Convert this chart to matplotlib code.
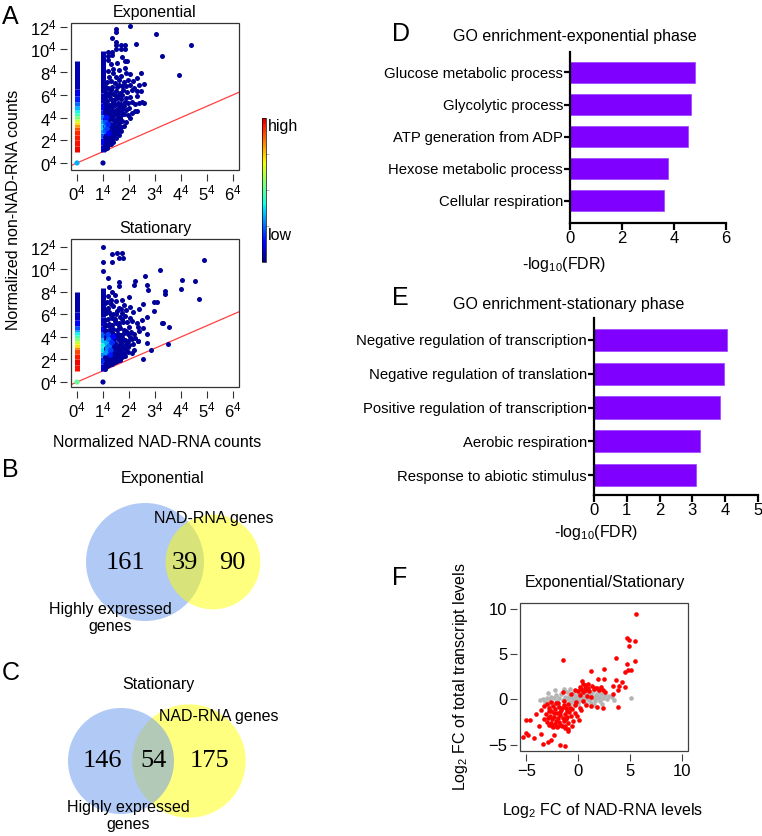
import numpy as np
import matplotlib.pyplot as plt
from matplotlib.patches import Rectangle, Circle
from matplotlib.colors import ListedColormap
from matplotlib.cm import ScalarMappable

plt.rcParams['font.family'] = ['Liberation Sans', 'DejaVu Sans']
plt.rcParams['mathtext.fontset'] = 'custom'
plt.rcParams['mathtext.rm'] = 'Liberation Sans'
plt.rcParams['mathtext.it'] = 'Liberation Sans:italic'

# ---------------- data ----------------
# panel A: density scatter (4th-root scale), columns at x=0 and x=1 given as stripes
exp_col0_breaks = [0.95, 1.5, 2.0, 2.5, 2.9, 3.15, 3.4, 3.65, 3.9, 4.15, 4.4, 4.7, 5.0, 5.4, 5.9, 6.5, 8.95]
exp_col0_dens = [0.97, 0.96, 0.95, 0.93, 0.88, 0.8, 0.72, 0.64, 0.55, 0.47, 0.4, 0.33, 0.25, 0.17, 0.1, 0.05]
exp_col1_breaks = [1.0, 1.6, 2.2, 2.6, 3.0, 3.4, 3.8, 4.2, 4.7, 5.3, 6.2, 9.9]
exp_col1_dens = [0.08, 0.14, 0.22, 0.3, 0.36, 0.33, 0.26, 0.18, 0.12, 0.07, 0.04]
stat_col0_breaks = [0.95, 1.5, 2.0, 2.5, 2.9, 3.15, 3.4, 3.65, 3.9, 4.15, 4.4, 4.65, 5.0, 5.5, 6.2, 7.95]
stat_col0_dens = [0.96, 0.97, 0.95, 0.9, 0.82, 0.72, 0.64, 0.56, 0.48, 0.4, 0.32, 0.22, 0.13, 0.07, 0.04]
stat_col1_breaks = [1.0, 1.6, 2.2, 2.7, 3.1, 3.5, 3.9, 4.4, 5.0, 5.8, 8.3]
stat_col1_dens = [0.1, 0.18, 0.28, 0.38, 0.4, 0.34, 0.24, 0.14, 0.08, 0.04]

exp_zero = [(0, 0, 0.32), (1, 0, 0.03)]
stat_zero = [(0, 0, 0.5), (1, 0, 0.03)]

exp_blob = [
    (1.08, 1.35), (1.12, 1.5), (1.2, 1.6), (1.1, 1.75), (1.3, 1.7), (1.15, 1.9), (1.25, 1.95), (1.4, 1.85),
    (1.1, 2.1), (1.18, 2.2), (1.28, 2.15), (1.38, 2.3), (1.5, 2.2), (1.12, 2.45), (1.22, 2.5), (1.33, 2.55),
    (1.45, 2.6), (1.6, 2.5), (1.15, 2.75), (1.25, 2.8), (1.38, 2.85), (1.5, 2.9), (1.7, 2.85), (1.3, 2.35),
    (1.1, 3.05), (1.2, 3.1), (1.3, 3.2), (1.42, 3.1), (1.55, 3.25), (1.68, 3.15), (1.8, 3.3), (1.15, 3.4),
    (1.25, 3.5), (1.37, 3.45), (1.48, 3.6), (1.6, 3.55), (1.75, 3.7), (1.9, 3.6), (1.12, 3.75), (1.22, 3.85),
    (1.33, 3.9), (1.45, 3.8), (1.58, 3.95), (2.05, 3.95),
    (1.1, 4.05), (1.2, 4.15), (1.3, 4.1), (1.42, 4.2), (1.55, 4.3), (1.68, 4.2), (1.8, 4.35), (1.95, 4.25),
    (2.1, 4.4), (1.15, 4.5), (1.27, 4.55), (1.38, 4.6), (1.5, 4.7), (1.63, 4.6), (1.75, 4.75), (1.88, 4.65),
    (2.0, 4.8), (2.22, 4.6), (1.12, 4.85), (1.35, 4.9), (2.3, 4.55),
    (1.1, 5.05), (1.22, 5.1), (1.33, 5.2), (1.45, 5.15), (1.58, 5.3), (1.7, 5.2), (1.83, 5.35), (1.97, 5.25),
    (2.12, 5.4), (2.25, 5.2), (1.17, 5.5), (1.3, 5.6), (1.42, 5.55), (1.55, 5.7), (1.68, 5.65), (1.9, 5.75),
    (2.05, 5.85), (2.4, 5.3), (2.5, 5.35), (2.56, 5.31), (1.25, 5.9), (1.62, 5.95), (2.3, 5.9),
    (1.12, 6.05), (1.25, 6.15), (1.38, 6.1), (1.5, 6.3), (1.65, 6.2), (1.78, 6.4), (1.93, 6.25), (2.1, 6.45),
    (2.3, 6.35), (2.45, 6.3), (1.2, 6.6), (1.35, 6.7), (1.55, 6.65), (1.72, 6.8), (1.88, 6.75), (2.02, 6.9),
    (2.2, 6.6), (2.38, 6.85), (2.59, 6.93),
    (1.15, 7.1), (1.3, 7.2), (1.45, 7.05), (1.6, 7.3), (1.8, 7.15), (1.95, 7.35), (2.15, 7.25), (1.25, 7.55),
    (1.5, 7.6), (1.7, 7.7), (2.05, 7.8), (1.38, 7.9), (2.3, 7.5), (1.88, 7.95), (2.46, 7.93),
    (1.18, 8.1), (1.4, 8.3), (1.62, 8.2), (1.85, 8.4), (1.3, 8.7), (1.55, 8.8), (1.2, 9.1), (1.33, 9.5),
    (1.2, 9.4), (1.72, 9.3), (1.86, 9.0), (1.92, 8.95),
    (1.06, 1.2), (1.07, 1.6), (1.06, 2.3), (1.07, 2.9), (1.06, 3.3), (1.07, 3.9), (1.06, 4.4), (1.07, 4.7),
    (1.06, 5.3), (1.07, 5.7), (1.06, 6.3), (1.07, 6.8), (1.17, 1.3), (1.22, 2.0), (1.35, 2.05), (1.42, 2.45),
    (1.55, 2.7), (1.62, 3.0), (1.4, 3.35), (1.52, 3.85), (1.65, 4.0), (1.28, 4.35), (1.47, 4.45), (1.7, 4.45),
    (1.2, 4.75), (1.6, 4.9), (1.4, 5.35), (1.8, 5.05), (1.5, 5.9), (1.75, 6.0), (1.32, 6.4), (1.6, 6.9),
    (2.04, 12.07), (1.5, 11.83), (1.5, 11.54), (1.33, 11.04), (3.04, 11.4), (4.4, 10.37), (3.28, 9.43),
    (3.93, 7.72), (2.28, 10.45), (1.5, 10.66), (1.5, 10.37), (1.5, 10.07), (1.7, 10.37), (1.83, 10.37),
    (1.7, 10.07), (1.83, 10.07), (1.2, 9.75), (1.33, 9.75),
]
exp_core = [(1.1, 2.8, 0.24), (1.13, 3.2, 0.28), (1.1, 3.6, 0.22), (1.16, 3.0, 0.2), (1.2, 3.4, 0.17),
            (1.14, 4.0, 0.15), (1.22, 2.6, 0.14)]

stat_blob = [
    (1.08, 1.25), (1.15, 1.4), (1.25, 1.5), (1.35, 1.6), (1.12, 1.65), (1.2, 1.8), (1.45, 1.75), (1.55, 1.85),
    (1.3, 1.9), (1.65, 1.95),
    (1.1, 2.05), (1.2, 2.15), (1.3, 2.1), (1.4, 2.25), (1.5, 2.2), (1.62, 2.3), (1.75, 2.2), (1.85, 2.35),
    (1.15, 2.45), (1.25, 2.5), (1.35, 2.55), (1.47, 2.6), (1.58, 2.5), (1.7, 2.65), (1.82, 2.55), (1.95, 2.7),
    (2.1, 2.6), (1.12, 2.8), (1.22, 2.85), (1.32, 2.9), (1.44, 2.8), (1.55, 2.95), (1.68, 2.9), (1.9, 2.95),
    (2.2, 2.85), (2.53, 2.05), (2.83, 2.8),
    (1.1, 3.05), (1.2, 3.15), (1.3, 3.1), (1.4, 3.2), (1.52, 3.15), (1.63, 3.3), (1.75, 3.2), (1.88, 3.35),
    (2.0, 3.25), (2.15, 3.4), (2.33, 3.6), (1.15, 3.5), (1.25, 3.55), (1.37, 3.6), (1.48, 3.5), (1.6, 3.7),
    (1.72, 3.6), (1.85, 3.75), (1.98, 3.65), (2.12, 3.8), (2.25, 3.9), (1.12, 3.85), (1.3, 3.95), (1.45, 3.9),
    (2.7, 3.5), (3.51, 3.35),
    (1.1, 4.05), (1.2, 4.1), (1.32, 4.2), (1.45, 4.15), (1.58, 4.3), (1.7, 4.2), (1.82, 4.35), (1.95, 4.25),
    (2.08, 4.45), (2.2, 4.3), (2.4, 4.5), (2.7, 4.3), (1.15, 4.55), (1.27, 4.6), (1.4, 4.7), (1.53, 4.6),
    (1.66, 4.75), (1.8, 4.65), (2.0, 4.85), (2.33, 4.9), (2.55, 4.75), (1.25, 4.95),
    (1.12, 5.05), (1.24, 5.15), (1.36, 5.1), (1.5, 5.25), (1.62, 5.2), (1.78, 5.35), (1.92, 5.3), (2.1, 5.45),
    (2.3, 5.25), (2.5, 5.5), (3.32, 5.2), (3.25, 5.25), (3.54, 4.86), (1.2, 5.6), (1.35, 5.7), (1.48, 5.6),
    (1.65, 5.75), (1.85, 5.85), (2.05, 5.7), (2.68, 5.8), (1.3, 5.95),
    (1.12, 6.1), (1.25, 6.2), (1.4, 6.05), (1.55, 6.3), (1.72, 6.15), (1.9, 6.35), (2.15, 6.2), (2.4, 6.45),
    (2.95, 6.3), (1.2, 6.6), (1.38, 6.7), (1.6, 6.55), (1.8, 6.8), (2.05, 6.65), (2.55, 6.9), (1.3, 6.95),
    (1.15, 7.1), (1.3, 7.25), (1.5, 7.15), (1.75, 7.3), (2.95, 7.1), (3.09, 7.1), (2.74, 8.17), (1.2, 7.6),
    (1.45, 7.7), (2.0, 7.5), (1.35, 8.0), (2.2, 8.6), (2.68, 8.6), (3.38, 8.1), (3.38, 7.8), (1.6, 8.5),
    (1.25, 8.4), (2.23, 9.0), (2.62, 9.37), (1.2, 9.2), (1.62, 8.9),
    (1.06, 1.15), (1.07, 1.5), (1.06, 2.2), (1.07, 4.5), (1.06, 5.0), (1.07, 5.5), (1.06, 6.4), (1.07, 7.0),
    (1.18, 1.55), (1.28, 1.75), (1.38, 1.95), (1.5, 2.05), (1.6, 2.15), (1.72, 2.45), (1.42, 2.4),
    (1.6, 2.75), (1.8, 3.05), (1.95, 3.1), (1.68, 3.45), (1.92, 3.5), (2.05, 3.95), (1.55, 4.0), (1.75, 4.0),
    (1.9, 4.5), (1.35, 4.45), (1.62, 4.95), (1.45, 5.4), (1.75, 5.6), (1.5, 6.0), (1.68, 6.45),
    (1.0, 11.97), (1.0, 10.64), (1.0, 9.81), (1.36, 11.35), (1.54, 11.43), (1.72, 11.43), (1.62, 11.0),
    (1.78, 11.0), (1.36, 10.64), (4.88, 10.85), (3.2, 9.96), (4.04, 9.07), (4.53, 8.92), (3.99, 8.21),
    (4.68, 7.32), (2.33, 3.6),
]
stat_core = [(1.12, 2.6, 0.3), (1.18, 3.0, 0.28), (1.15, 3.5, 0.32), (1.22, 3.8, 0.25), (1.25, 3.2, 0.25),
             (1.3, 2.8, 0.2), (1.35, 3.5, 0.18), (1.2, 4.2, 0.2), (1.4, 4.0, 0.14), (1.28, 2.4, 0.16)]

# panels B, C: venn counts (left only, overlap, right only)
venn_exp = [161, 39, 90]
venn_stat = [146, 54, 175]

# panels D, E: GO enrichment
go_exp_terms = ['Glucose metabolic process', 'Glycolytic process', 'ATP generation from ADP',
                'Hexose metabolic process', 'Cellular respiration']
go_exp_vals = [4.8, 4.65, 4.55, 3.77, 3.62]
go_stat_terms = ['Negative regulation of transcription', 'Negative regulation of translation',
                 'Positive regulation of transcription', 'Aerobic respiration', 'Response to abiotic stimulus']
go_stat_vals = [4.05, 3.95, 3.83, 3.22, 3.1]

# panel F: log2 FC scatter
fc_red = [
    (5.54, 9.49), (4.67, 6.74), (4.93, 6.6), (5.47, 6.5), (4.93, 5.93), (5.47, 4.29), (4.67, 3.92), (5.15, 3.26),
    (4.5, 3.0), (4.83, 3.3), (3.64, 4.58), (1.29, 3.11), (2.51, 3.36), (4.19, 1.9), (3.96, 1.5), (4.5, 1.4),
    (3.32, 1.5), (3.61, 2.09), (2.51, 2.2), (1.93, 2.2), (0.42, 2.03), (3.86, -0.84), (2.42, -1.0),
    (1.84, -0.84), (3.38, 0.6), (3.86, 0.99), (2.58, 0.8), (2.42, 1.06), (-1.48, 4.4),
    (0.16, 1.4), (0.64, 1.28), (0.97, 1.28), (1.61, 1.28), (0.0, 0.9), (0.3, 1.1), (0.5, 0.8), (0.8, 1.0),
    (1.1, 0.9), (1.3, 1.5), (1.5, 1.1), (1.8, 1.3), (2.0, 1.0), (2.2, 1.4), (0.7, 1.6), (0.2, 0.5),
    (0.45, 1.75), (1.0, 1.7), (-0.64, 0.6), (-0.32, 1.0), (-1.45, 0.8), (1.2, 0.3), (0.9, 0.4),
    (-0.16, -0.3), (0.8, -0.66), (0.32, -1.2), (0.1, -2.3), (1.2, -0.7), (0.5, -0.2), (-0.3, -1.5),
    (-0.1, -1.8), (0.2, -0.9),
    (-3.32, -0.77), (-3.54, -1.2), (-3.0, -0.5), (-2.8, -0.9), (-2.6, -1.3), (-2.4, -0.7), (-2.2, -1.1),
    (-2.0, -1.5), (-1.8, -0.8), (-1.6, -1.2), (-1.4, -0.6), (-1.2, -1.0), (-1.0, -0.5), (-0.8, -0.9),
    (-3.1, -1.6), (-2.9, -2.0), (-2.7, -1.8), (-2.5, -2.2), (-2.3, -1.9), (-2.1, -2.4), (-1.9, -2.0),
    (-1.7, -1.7), (-1.5, -2.1), (-1.3, -1.6), (-1.1, -1.9), (-0.9, -1.4), (-0.7, -1.8), (-3.0, -2.5),
    (-2.8, -2.8), (-2.6, -2.6), (-2.4, -3.0), (-2.2, -2.7), (-2.0, -3.1), (-1.8, -2.5), (-1.6, -2.8),
    (-1.4, -2.4), (-1.2, -2.2), (-1.0, -2.6), (-3.3, -2.2), (-2.65, -0.3), (-1.9, -0.4), (-1.35, -0.2),
    (-1.05, -1.3), (-0.6, -1.1), (-2.35, -1.5), (-1.75, -1.35), (-2.85, -1.3), (-1.55, -0.95),
    (-2.15, -0.45), (-1.25, -2.95), (-0.95, -3.3), (-0.55, -2.96), (-1.58, -2.96), (-1.26, -3.15),
    (-0.93, -3.5), (-1.9, -2.9), (-2.55, -2.96), (-2.29, -3.88), (-0.45, -2.4), (-0.3, -0.6),
    (-4.03, -1.57), (-5.0, -2.3), (-4.67, -2.3), (-5.31, -4.14), (-5.0, -3.66), (-4.83, -3.96),
    (-4.25, -4.25), (-3.6, -3.77), (-3.43, -4.88), (-2.93, -4.7), (-2.64, -4.5), (-1.74, -5.0),
    (-1.26, -5.2), (-3.8, -2.9),
]
fc_grey = [
    (-3.7, -0.1), (-3.4, 0.0), (-3.2, -0.3), (-3.0, 0.2), (-2.8, -0.1), (-2.6, 0.3), (-2.5, -0.4), (-2.3, 0.1),
    (-2.1, 0.5), (-2.0, -0.2), (-1.8, 0.2), (-1.6, 0.6), (-1.5, -0.1), (-1.3, 0.3), (-1.1, 0.8), (-1.0, 0.0),
    (-0.9, 0.4), (-0.7, -0.3), (-0.6, 0.2), (-0.5, 0.7), (-0.4, -0.1), (-0.3, 0.4), (-0.2, 0.9), (-0.1, 0.1),
    (0.0, 0.5), (0.1, -0.2), (0.2, 0.3), (0.3, 0.8), (0.4, 0.0), (0.5, 0.5), (0.6, -0.3), (0.7, 0.2),
    (0.8, 0.7), (0.9, 0.1), (1.0, 0.4), (1.1, -0.1), (1.2, 0.6), (1.3, 0.2), (1.4, 0.9), (1.5, 0.3),
    (1.6, -0.2), (1.7, 0.5), (1.8, 0.1), (1.9, 0.8), (2.0, 0.3), (2.2, 0.6), (2.4, 0.2), (2.6, 0.5),
    (2.8, 0.0), (3.0, 0.4), (3.45, -0.05), (5.15, 0.15), (-2.9, 0.7), (-2.2, 1.0), (-1.4, 1.2), (-0.8, 1.1),
    (0.2, 1.2), (0.6, 1.0), (-0.8, -0.6), (0.0, -0.5), (0.8, -0.5), (1.5, -0.6), (2.3, -0.5), (-1.9, -0.7),
    (-2.7, -0.6), (3.3, 0.3), (2.1, -0.2), (1.0, 1.0), (0.35, 0.25), (-0.25, -0.45), (1.25, -0.35),
]

# ---------------- layout helpers ----------------
W, H = 762, 836
fig = plt.figure(figsize=(W / 100, H / 100), dpi=100)


def rect(l, t, r, b):
    return [l / W, 1 - b / H, (r - l) / W, (b - t) / H]


def ftext(x, y, s, **kw):
    kw.setdefault('ha', 'center')
    kw.setdefault('va', 'center')
    return fig.text(x / W, 1 - y / H, s, **kw)


jet = plt.get_cmap('jet')
cmap = ListedColormap(jet(np.linspace(0.0, 0.93, 256)))


def r_frame(ax, offset=3, color='#333333'):
    for s in ['top', 'right']:
        ax.spines[s].set_visible(False)
    for s in ['left', 'bottom']:
        ax.spines[s].set_position(('outward', offset))
        ax.spines[s].set_linewidth(0)
    ax.add_patch(Rectangle((0, 0), 1, 1, transform=ax.transAxes, fill=False,
                           ec=color, lw=0.9, clip_on=False))
    ax.tick_params(length=5, width=0.8, color=color, labelsize=12, pad=2)


def density_panel(ax, title, cols, zeros, blob, core, ylim):
    ax.set_xlim(-0.23, 6.23)
    ax.set_ylim(*ylim)
    ax.axline((0, 0), slope=1, color='#ff4040', lw=0.9, zorder=1)
    for x, br, dens in cols:
        ax.vlines([x] * len(dens), br[:-1], br[1:], colors=cmap(np.array(dens)), lw=3.6, zorder=2)
    bx = [p[0] for p in blob]
    by = [p[1] for p in blob]
    ax.scatter(bx, by, s=13, color=cmap(0.03), lw=0, zorder=3)
    ax.scatter([p[0] for p in core], [p[1] for p in core], s=16,
               c=cmap(np.array([p[2] for p in core])), lw=0, zorder=4)
    ax.scatter([p[0] for p in zeros], [p[1] for p in zeros], s=14,
               c=cmap(np.array([p[2] for p in zeros])), lw=0, zorder=4)
    ax.set_xticks(range(7))
    ax.set_xticklabels([r'$\mathregular{%d^4}$' % v for v in range(7)])
    ax.set_yticks(range(0, 13, 2))
    ax.set_yticklabels([r'$\mathregular{%d^4}$' % v for v in range(0, 13, 2)])
    r_frame(ax)
    ax.set_title(title, fontsize=11.5, pad=4)


# ---------------- panel A ----------------
ax_a1 = fig.add_axes(rect(71, 23, 239, 170))
density_panel(ax_a1, 'Exponential',
              [(0, exp_col0_breaks, exp_col0_dens), (1, exp_col1_breaks, exp_col1_dens)],
              exp_zero, exp_blob, exp_core, (-0.62, 12.33))
ax_a2 = fig.add_axes(rect(71, 239, 239, 387))
density_panel(ax_a2, 'Stationary',
              [(0, stat_col0_breaks, stat_col0_dens), (1, stat_col1_breaks, stat_col1_dens)],
              stat_zero, stat_blob, stat_core, (-0.44, 12.68))
ftext(14, 210, 'Normalized non-NAD-RNA counts', rotation=90, fontsize=11.5)
ftext(157, 443, 'Normalized NAD-RNA counts', fontsize=11.5)

cax = fig.add_axes(rect(262, 118, 266, 262))
cb = fig.colorbar(ScalarMappable(cmap=cmap), cax=cax)
cb.set_ticks([0.25, 0.5, 0.75])
cb.ax.tick_params(length=2, width=0.5, color='#999999', labelright=False)
cb.outline.set_linewidth(0.5)
ftext(268, 127, 'high', ha='left', fontsize=11.5)
ftext(268, 236, 'low', ha='left', fontsize=11.5)

# ---------------- panels B, C (venn) ----------------
ax_v = fig.add_axes([0, 0, 1, 1], zorder=-1)
ax_v.set_xlim(0, W)
ax_v.set_ylim(H, 0)
ax_v.axis('off')


def venn(counts, cx, cy, r_left, blue_first):
    # circle areas follow the set sizes
    left_n = counts[0] + counts[1]
    right_n = counts[1] + counts[2]
    k = r_left / np.sqrt(left_n)
    r_right = k * np.sqrt(right_n)
    c_blue = Circle((cx, cy), r_left, color='#6495ed', alpha=0.5, lw=0)
    c_yel = Circle((cx + 68, cy), r_right, color='#ffff00', alpha=0.5, lw=0)
    for c in ([c_blue, c_yel] if blue_first else [c_yel, c_blue]):
        ax_v.add_patch(c)


ftext(163, 479, 'Exponential', fontsize=11.5)
venn(venn_exp, 145, 562, 59, True)
for x, n in zip([125, 185, 232], venn_exp):
    ftext(x, 563, str(n), fontsize=19, family='Liberation Serif')
ftext(214, 518, 'NAD-RNA genes', fontsize=11.5)
ftext(110, 618, 'Highly expressed\ngenes', fontsize=11.5, linespacing=1.1)

ftext(158, 684, 'Stationary', fontsize=11.5)
venn(venn_stat, 121, 761, 53, False)
for x, n in zip([102, 153, 209], venn_stat):
    ftext(x, 761, str(n), fontsize=19, family='Liberation Serif')
ftext(219, 717, 'NAD-RNA genes', fontsize=11.5)
ftext(128, 816, 'Highly expressed\ngenes', fontsize=11.5, linespacing=1.1)


# ---------------- panels D, E (GO bars) ----------------
def go_panel(ax, terms, vals, xmax, ylim):
    ax.barh(range(len(vals)), vals, height=0.66, color='#7f00ff', edgecolor='#9a40ff', lw=0.5)
    ax.set_xlim(0, xmax)
    ax.set_ylim(*ylim)
    ax.set_yticks(range(len(terms)))
    ax.set_yticklabels(terms, fontsize=10.7)
    ax.set_xticks(range(0, xmax + 1, 2 if xmax == 6 else 1))
    for s in ['top', 'right']:
        ax.spines[s].set_visible(False)
    for s in ['left', 'bottom']:
        ax.spines[s].set_linewidth(1.6)
    ax.tick_params(axis='y', length=4, width=1.6, pad=1)
    ax.tick_params(axis='x', length=5, width=1.6, labelsize=12, pad=1)


ax_d = fig.add_axes(rect(570, 52, 726, 223))
go_panel(ax_d, go_exp_terms, go_exp_vals, 6, (4.7, -0.64))
ftext(575, 36, 'GO enrichment-exponential phase', fontsize=11.5)
ftext(564, 265, r'-log$_{10}$(FDR)', fontsize=11.5)

ax_e = fig.add_axes(rect(594, 318, 758, 495))
go_panel(ax_e, go_stat_terms, go_stat_vals, 5, (4.59, -0.65))
ftext(569, 305, 'GO enrichment-stationary phase', fontsize=11.5)
ftext(596, 533, r'-log$_{10}$(FDR)', fontsize=11.5)

# ---------------- panel F ----------------
ax_f = fig.add_axes(rect(520, 603, 688, 751))
ax_f.scatter([p[0] for p in fc_grey], [p[1] for p in fc_grey], s=11, color='#b4b4b4', lw=0)
ax_f.scatter([p[0] for p in fc_red], [p[1] for p in fc_red], s=11, color='#ff0000', lw=0)
ax_f.set_xlim(-5.6, 10.6)
ax_f.set_ylim(-5.7, 10.65)
ax_f.set_xticks([-5, 0, 5, 10])
ax_f.set_yticks([-5, 0, 5, 10])
r_frame(ax_f, offset=2, color='#404040')
ftext(605, 583, 'Exponential/Stationary', fontsize=11.5)
ftext(603, 810, r'Log$_2$ FC of NAD-RNA levels', fontsize=11.5)
ftext(460, 677, r'Log$_2$ FC of total transcript levels', rotation=90, fontsize=11.5)

# ---------------- panel letters ----------------
for letter, x, y in [('A', 2, 17), ('B', 2, 470), ('C', 2, 673), ('D', 392, 34), ('E', 392, 298),
                     ('F', 392, 578)]:
    ftext(x, y, letter, ha='left', fontsize=18)

fig.savefig('out.png', dpi=100)
